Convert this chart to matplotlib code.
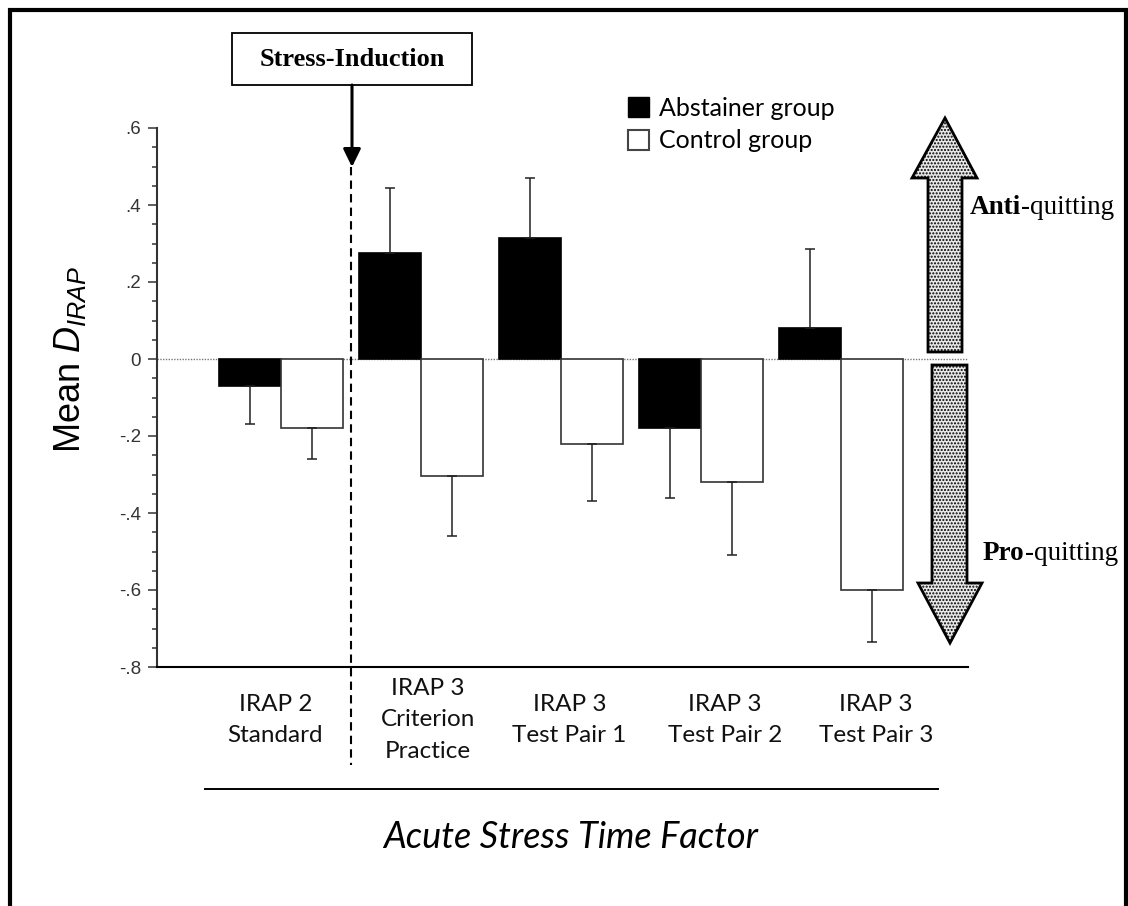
import numpy as np
import matplotlib.pyplot as plt
import matplotlib.transforms as mtransforms
from matplotlib.patches import Patch, Polygon, Rectangle
from matplotlib.ticker import MultipleLocator

plt.rcParams['mathtext.fontset'] = 'custom'
plt.rcParams['mathtext.rm'] = 'Liberation Sans'
plt.rcParams['mathtext.it'] = 'Liberation Sans:italic'

# Mean D-IRAP scores per phase (error = one SE, drawn away from zero)
phases = ["IRAP 2\nStandard", "IRAP 3\nCriterion\nPractice", "IRAP 3\nTest Pair 1",
          "IRAP 3\nTest Pair 2", "IRAP 3\nTest Pair 3"]
abstainer = [-0.07, 0.275, 0.315, -0.18, 0.08]
abstainer_err = [0.10, 0.17, 0.155, 0.18, 0.205]
control = [-0.18, -0.305, -0.22, -0.32, -0.60]
control_err = [0.08, 0.155, 0.15, 0.19, 0.135]
yticks = [0.6, 0.4, 0.2, 0, -0.2, -0.4, -0.6, -0.8]
ytick_labels = [".6", ".4", ".2", "0", "-.2", "-.4", "-.6", "-.8"]

label_pos = [-0.04, 1.05, 2.06, 3.17, 4.25]
W, H = 1128, 906


def one_sided(vals, errs):
    lower = [e if v < 0 else 0 for v, e in zip(vals, errs)]
    upper = [e if v >= 0 else 0 for v, e in zip(vals, errs)]
    return [lower, upper]


fig = plt.figure(figsize=(W / 100, H / 100), dpi=100)
ax = fig.add_axes([157 / W, 1 - 667 / H, (968 - 157) / W, (667 - 128) / H])

x = np.arange(len(phases))
w = 0.443
ekw = dict(ecolor='#222222', elinewidth=1.1, capsize=3.6, capthick=1.1)
ax.axhline(0, color='#777777', lw=1, ls=(0, (1, 1)), zorder=0)
ax.bar(x - w / 2, abstainer, w, color='black', edgecolor='black', lw=1.2,
       yerr=one_sided(abstainer, abstainer_err), error_kw=ekw, zorder=2)
ax.bar(x + w / 2, control, w, color='white', edgecolor='#333333', lw=1.2,
       yerr=one_sided(control, control_err), error_kw=ekw, zorder=2)

ax.set_xlim(-0.886, 4.907)
ax.set_ylim(-0.8, 0.6)
ax.set_xticks([])
ax.set_yticks(yticks)
ax.set_yticklabels(ytick_labels, fontsize=13.5, family='Liberation Sans', color='#333333')
ax.yaxis.set_minor_locator(MultipleLocator(0.05))
ax.tick_params(axis='y', which='major', length=6.5, width=1.1, pad=5, color='#333333')
ax.tick_params(axis='y', which='minor', length=3.6, width=1.1, color='#333333')
for s in ['top', 'right']:
    ax.spines[s].set_visible(False)
ax.spines['left'].set_linewidth(1.5)
ax.spines['left'].set_color('#333333')
ax.spines['bottom'].set_linewidth(1.5)

# category labels under the axis, vertically centred
lbl_tr = mtransforms.blended_transform_factory(ax.transData, ax.transAxes)
for pos, name in zip(label_pos, phases):
    ax.text(pos, -0.098, name, transform=lbl_tr, ha='center', va='center',
            fontsize=17.5, family='Lato', linespacing=1.62, color='#111111')

# stress induction marker between baseline and IRAP 3
ax.plot([0.5, 0.5], [0.928, -0.182], transform=lbl_tr, color='black', lw=1.5,
        dashes=(4, 2.5), clip_on=False)

fig.legend(handles=[Patch(facecolor='black', edgecolor='black'),
                    Patch(facecolor='white', edgecolor='#444444', lw=1.5)],
           labels=['Abstainer group', 'Control group'],
           loc='upper left', bbox_to_anchor=(628 / W, 1 - 97 / H), frameon=False,
           prop=dict(family='Lato', size=18), handlelength=0.85, handleheight=0.85,
           handletextpad=0.4, labelspacing=0.38, borderpad=0, borderaxespad=0)

# overlay in pixel units for annotations
over = fig.add_axes([0, 0, 1, 1], zorder=5)
over.set_xlim(0, W)
over.set_ylim(H, 0)
over.axis('off')
over.patch.set_visible(False)

over.plot([10, 10, 1126, 1126], [H + 5, 10, 10, H + 5], color='black', lw=3,
          solid_joinstyle='miter', clip_on=False)

over.add_patch(Rectangle((232, 33), 240, 52, facecolor='white', edgecolor='black', lw=1.3))
over.text(352, 59, "Stress-Induction", ha='center', va='center', fontsize=19,
          family='Liberation Serif', weight='bold')
over.annotate('', xy=(352, 167), xytext=(352, 85),
              arrowprops=dict(arrowstyle='-|>,head_length=0.45,head_width=0.22',
                              lw=2.2, color='black', mutation_scale=24,
                              shrinkA=0, shrinkB=0))

up = [(928, 352), (962, 352), (962, 178), (977, 178), (945, 118), (912, 178), (928, 178)]
down = [(932, 365), (967, 365), (967, 583), (982, 583), (950, 643), (918, 583), (932, 583)]
for pts in (up, down):
    over.add_patch(Polygon(pts, closed=True, facecolor='#e8e8e8', edgecolor='black',
                           hatch='.....', lw=2, joinstyle='miter'))

serif = dict(family='Liberation Serif', fontsize=19.5, va='center')
t = over.text(970, 207, "Anti", weight='bold', ha='left', **serif)
over.annotate("-quitting", xy=(1, 0), xycoords=t, ha='left', va='bottom',
              family='Liberation Serif', fontsize=19.5)
t = over.text(983, 553, "Pro", weight='bold', ha='left', **serif)
over.annotate("-quitting", xy=(1, 0), xycoords=t, ha='left', va='bottom',
              family='Liberation Serif', fontsize=19.5)

over.text(70, 359, r"Mean $D_{IRAP}$", rotation=90, ha='center', va='center',
          fontsize=26, family='Liberation Sans')

over.plot([205, 938], [789, 789], color='black', lw=1.4)
over.text(571, 838, "Acute Stress Time Factor", ha='center', va='center',
          fontsize=26, family='Lato', style='italic')

fig.savefig('out.png', dpi=100)
